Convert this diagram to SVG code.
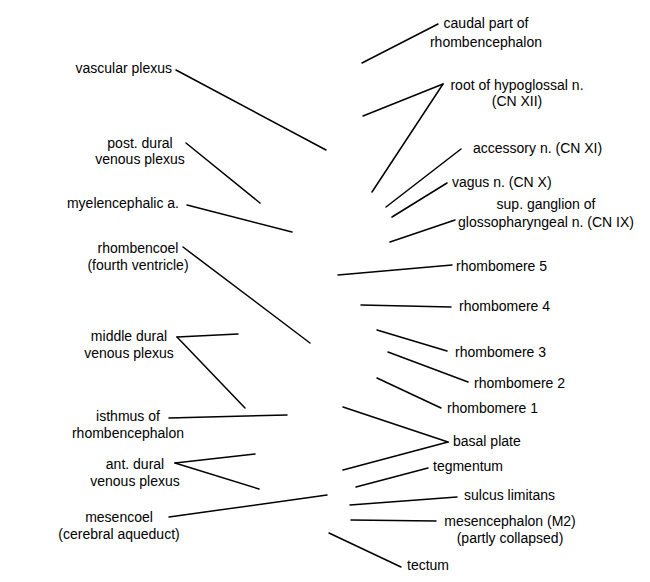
<svg xmlns="http://www.w3.org/2000/svg" width="650" height="582" viewBox="0 0 650 582">
<style>
text{font-family:"Liberation Sans",Arial,sans-serif;font-size:14px;fill:#000}
.e{text-anchor:end}.m{text-anchor:middle}.s{text-anchor:start}
#connectors line{stroke:#000;stroke-width:1.5;stroke-linecap:round}
</style>
<rect width="650" height="582" fill="#fff"/>
<g id="connectors">
<line x1="176" y1="70" x2="326" y2="150"/>
<line x1="186" y1="143" x2="260" y2="203"/>
<line x1="187" y1="205" x2="292" y2="232"/>
<line x1="183" y1="247" x2="310" y2="343"/>
<line x1="177" y1="337" x2="238" y2="334"/>
<line x1="177" y1="337" x2="245" y2="408"/>
<line x1="169" y1="418" x2="287" y2="415"/>
<line x1="175" y1="463" x2="255" y2="454"/>
<line x1="175" y1="463" x2="259" y2="489"/>
<line x1="169" y1="517" x2="327" y2="495"/>
<line x1="438" y1="24" x2="362" y2="63"/>
<line x1="443" y1="84" x2="363" y2="116"/>
<line x1="443" y1="84" x2="372" y2="192"/>
<line x1="461" y1="149" x2="386" y2="207"/>
<line x1="447" y1="183" x2="392" y2="217"/>
<line x1="455" y1="220" x2="390" y2="242"/>
<line x1="452" y1="265" x2="338" y2="275"/>
<line x1="451" y1="307" x2="361" y2="305"/>
<line x1="447" y1="351" x2="377" y2="330"/>
<line x1="468" y1="382" x2="388" y2="352"/>
<line x1="441" y1="408" x2="377" y2="378"/>
<line x1="448" y1="442" x2="343" y2="407"/>
<line x1="448" y1="442" x2="343" y2="470"/>
<line x1="428" y1="468" x2="356" y2="487"/>
<line x1="457" y1="497" x2="350" y2="505"/>
<line x1="436" y1="521" x2="351" y2="520"/>
<line x1="401" y1="567" x2="329" y2="533"/>
</g>
<g id="vascular-plexus"><text class="e" x="172" y="73">vascular plexus</text></g>
<g id="post-dural"><text class="m" x="140" y="148">post. dural</text><text class="m" x="140" y="164">venous plexus</text></g>
<g id="myelencephalic"><text class="e" x="179" y="208">myelencephalic a.</text></g>
<g id="rhombencoel"><text class="m" x="138" y="253">rhombencoel</text><text class="m" x="138" y="270">(fourth ventricle)</text></g>
<g id="middle-dural"><text class="m" x="129" y="341">middle dural</text><text class="m" x="129" y="358">venous plexus</text></g>
<g id="isthmus"><text class="m" x="128" y="421">isthmus of</text><text class="m" x="128" y="438">rhombencephalon</text></g>
<g id="ant-dural"><text class="m" x="135" y="469">ant. dural</text><text class="m" x="135" y="486">venous plexus</text></g>
<g id="mesencoel"><text class="m" x="119" y="522">mesencoel</text><text class="m" x="119" y="539">(cerebral aqueduct)</text></g>
<g id="caudal"><text class="m" x="486" y="28">caudal part of</text><text class="m" x="486" y="47">rhombencephalon</text></g>
<g id="hypoglossal"><text class="m" x="517" y="90">root of hypoglossal n.</text><text class="m" x="517" y="106">(CN XII)</text></g>
<g id="accessory"><text class="s" x="473" y="153">accessory n. (CN XI)</text></g>
<g id="vagus"><text class="s" x="452" y="187">vagus n. (CN X)</text></g>
<g id="glossopharyngeal"><text class="m" x="546" y="209">sup. ganglion of</text><text class="m" x="546" y="227">glossopharyngeal n. (CN IX)</text></g>
<g id="r5"><text class="s" x="456" y="271">rhombomere 5</text></g>
<g id="r4"><text class="s" x="459" y="311">rhombomere 4</text></g>
<g id="r3"><text class="s" x="455" y="357">rhombomere 3</text></g>
<g id="r2"><text class="s" x="474" y="388">rhombomere 2</text></g>
<g id="r1"><text class="s" x="447" y="413">rhombomere 1</text></g>
<g id="basal-plate"><text class="s" x="453" y="446">basal plate</text></g>
<g id="tegmentum"><text class="s" x="433" y="471">tegmentum</text></g>
<g id="sulcus"><text class="s" x="464" y="500">sulcus limitans</text></g>
<g id="mesencephalon"><text class="m" x="510" y="526">mesencephalon (M2)</text><text class="m" x="510" y="543">(partly collapsed)</text></g>
<g id="tectum"><text class="s" x="407" y="570">tectum</text></g>
</svg>
